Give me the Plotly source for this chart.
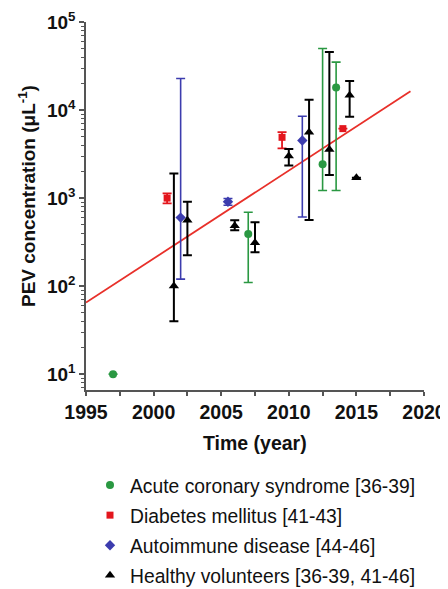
import plotly.graph_objects as go

FONT = "Liberation Sans, Arial, sans-serif"

# ---- data ----
acs_x = [1997, 2007, 2012.5, 2013.5]
acs_y = [10, 390, 2430, 18000]
acs_lo = [10, 110, 1220, 1220]
acs_hi = [10, 690, 50000, 35000]

dm_x = [2001, 2009.5, 2014]
dm_y = [1000, 4900, 6150]
dm_lo = [870, 3670, 6150]
dm_hi = [1130, 5620, 6150]

ai_x = [2002, 2005.5, 2011]
ai_y = [600, 910, 4500]
ai_lo = [120, 830, 610]
ai_hi = [22800, 990, 8500]

hv_x = [2001.5, 2002.5, 2006, 2007.5, 2010, 2011.5, 2013, 2014.5, 2015]
hv_y = [100, 560, 485, 310, 3000, 5600, 3570, 14700, 1700]
hv_lo = [40, 224, 432, 243, 2350, 565, 1830, 8400, 1700]
hv_hi = [1900, 910, 560, 530, 3600, 13100, 45700, 21400, 1700]

fit_x = [1995, 2019]
fit_y = [65, 16300]

x_ticks = [1995, 2000, 2005, 2010, 2015, 2020]
x_minor = [1997.5, 2002.5, 2007.5, 2012.5, 2017.5]
decades = [10, 100, 1000, 10000, 100000]
minor_vals = [m * d for d in [1, 10, 100, 1000, 10000] for m in range(2, 10)]

series = [
    ("Acute coronary syndrome [36-39]", acs_x, acs_y, acs_lo, acs_hi, "#2a9842", "circle", 8, 1.6),
    ("Diabetes mellitus [41-43]", dm_x, dm_y, dm_lo, dm_hi, "#e3161d", "square", 7, 1.8),
    ("Autoimmune disease [44-46]", ai_x, ai_y, ai_lo, ai_hi, "#3c3cae", "diamond", 8, 1.6),
    ("Healthy volunteers [36-39, 41-46]", hv_x, hv_y, hv_lo, hv_hi, "#000000", "triangle-up", 9, 2),
]

fig = go.Figure()

fig.add_trace(go.Scatter(x=fit_x, y=fit_y, mode="lines",
                         line=dict(color="#e8302a", width=1.8), showlegend=False,
                         hoverinfo="skip"))

for i, (name, xs, ys, lo, hi, col, sym, sz, th) in enumerate(series):
    fig.add_trace(go.Scatter(
        x=xs, y=ys, mode="markers", name=name, legendgroup=f"g{i}",
        marker=dict(color=col, symbol=sym, size=sz, line=dict(width=0)),
        error_y=dict(type="data", symmetric=False,
                     array=[h - y for h, y in zip(hi, ys)],
                     arrayminus=[y - l for l, y in zip(lo, ys)],
                     color=col, thickness=th, width=4.5),
    ))

# page body has an 8px default margin: the figure is drawn 8px in from the window edge
OFF = 8
W, H = 448 - OFF, 589 - OFF
PL, PR, PT, PB = 86, 424, 22, 390  # plot area in window pixels
L, R, T, B = PL - OFF, W - (PR - OFF), PT - OFF, H - (PB - OFF)
ph = PB - PT
pw = PR - PL

def py(p):
    return (PB - p) / ph

def px(p):
    return (p - PL) / pw

fig.update_layout(
    width=W, height=H,
    margin=dict(l=L, r=R, t=T, b=B, autoexpand=False),
    paper_bgcolor="white", plot_bgcolor="white",
    font=dict(family=FONT, color="#111111"),
    showlegend=True,
    legend=dict(x=px(90), y=py(466), xanchor="left", yanchor="top",
                font=dict(family=FONT, size=19.3, color="#111111"),
                tracegroupgap=2, bgcolor="rgba(0,0,0,0)"),
    xaxis=dict(range=[1995, 2020], tickmode="array",
               tickvals=x_ticks,
               ticktext=[f"<b>{v}</b>" for v in x_ticks],
               ticks="outside", ticklen=4, tickwidth=1.5, tickcolor="#555555",
               showline=True, linecolor="#555555", linewidth=1.5,
               showgrid=False, zeroline=False,
               tickfont=dict(family=FONT, size=19.5, color="#111111"),
               minor=dict(tickvals=x_minor,
                          ticks="outside", ticklen=4, tickwidth=1.5, tickcolor="#555555")),
    yaxis=dict(type="log", range=[0.82, 5.0], tickmode="array",
               tickvals=decades,
               ticktext=[f"<b>10<sup>{k}</sup></b>" for k in range(1, 6)],
               ticks="outside", ticklen=5, tickwidth=1.5, tickcolor="#555555",
               showline=True, linecolor="#555555", linewidth=1.5,
               showgrid=False, zeroline=False,
               tickfont=dict(family=FONT, size=19, color="#111111"),
               minor=dict(tickvals=minor_vals, ticks="outside", ticklen=3,
                          tickwidth=1, tickcolor="#555555")),
    annotations=[
        dict(text="<b>Time (year)</b>", xref="paper", yref="paper",
             x=0.5, y=py(443), xanchor="center", yanchor="middle", showarrow=False,
             font=dict(family=FONT, size=19.5, color="#111111")),
        dict(text="<b>PEV concentration (μL<sup>-1</sup>)</b>", xref="paper", yref="paper",
             x=px(27), y=py(196), xanchor="center", yanchor="middle", showarrow=False,
             textangle=-90, font=dict(family=FONT, size=19, color="#111111")),
    ],
)

fig.write_html("out.html")
